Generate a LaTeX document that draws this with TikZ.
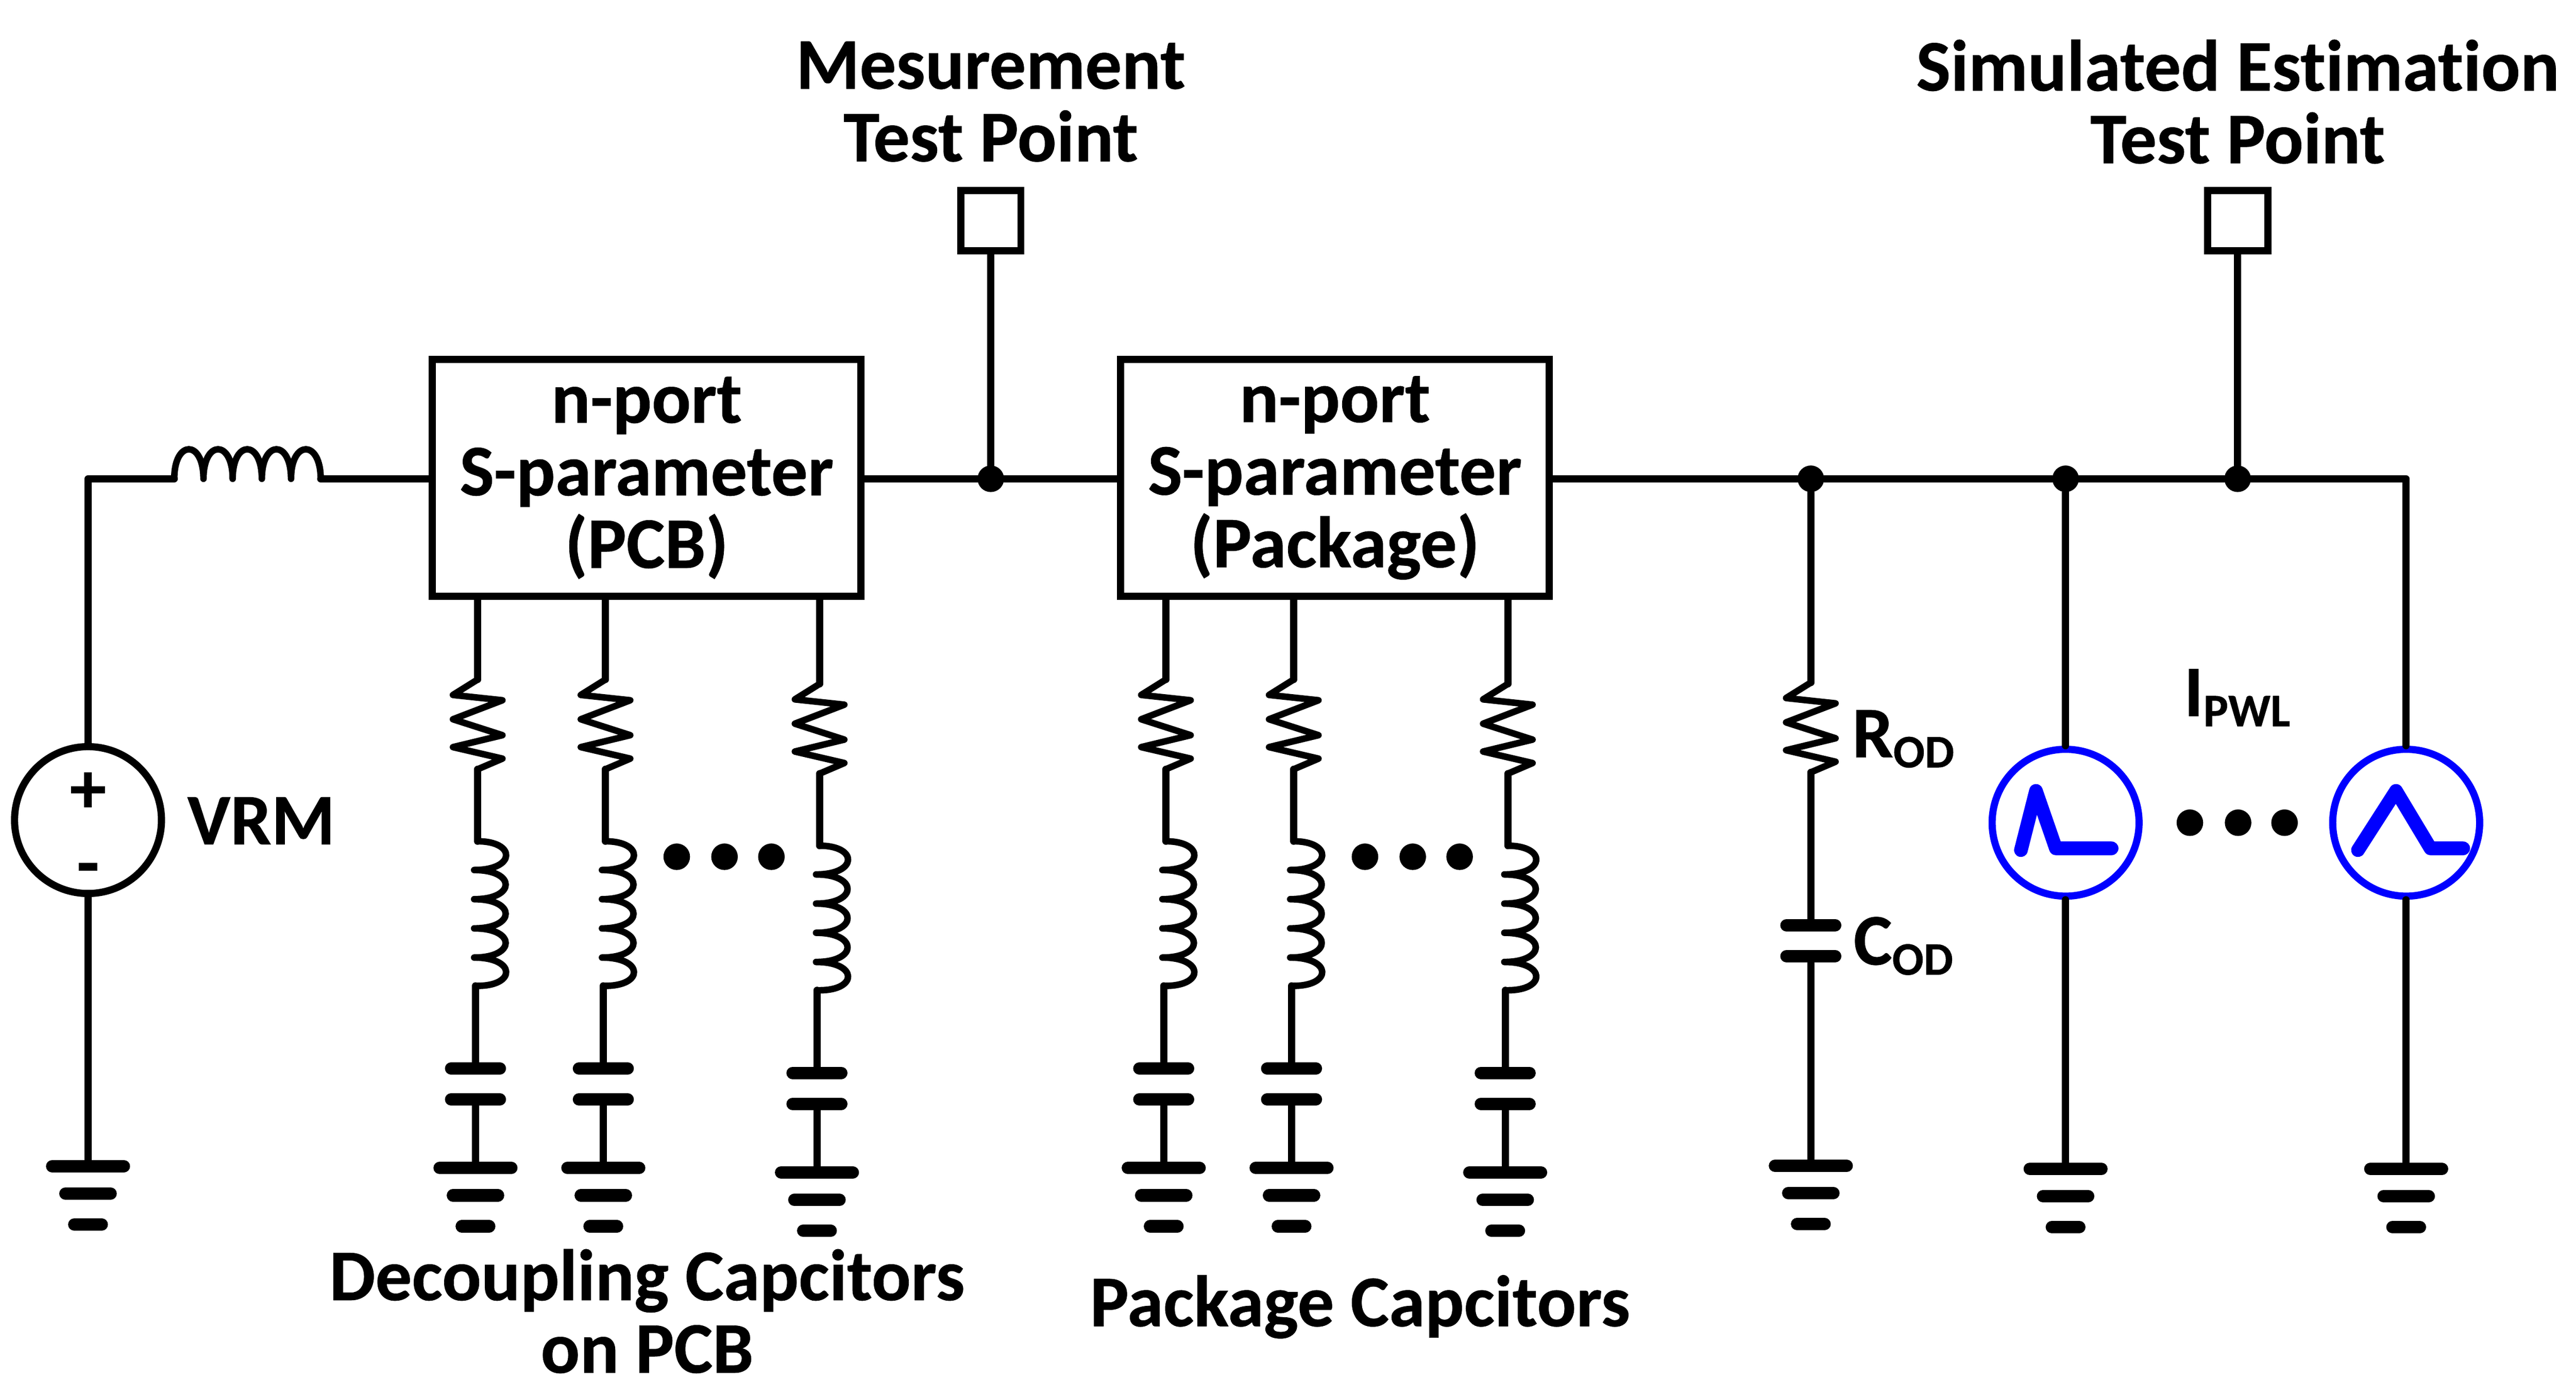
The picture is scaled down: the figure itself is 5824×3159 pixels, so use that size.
\documentclass[tikz,border=0pt]{standalone}
\usepackage{fontspec}
\setmainfont{Carlito}[Ligatures=NoCommon,BoldFeatures={FakeBold=0.5}]
\definecolor{srcblue}{RGB}{0,0,255}
\newcommand{\bigfont}{\fontsize{46.8}{46.7}\selectfont\bfseries}
\newcommand{\subfont}{\fontsize{30}{30}\selectfont\bfseries}
\tikzset{
  wire/.style={line width=4.6pt,line join=round,line cap=round,black},
  coil/.style={line width=4.2pt,line join=round,line cap=round,black},
  plate/.style={line width=8pt,line cap=round,black},
  pulse/.style={line width=8.8pt,line cap=round,line join=round,srcblue},
  lbl/.style={font=\bigfont,inner sep=0pt,align=center,text=black},
  blockbox/.style={draw=black,line width=4.6pt,font=\bigfont,align=center,inner sep=0pt,minimum width=9.68cm,minimum height=5.36cm},
  probe/.style={draw=black,line width=4.6pt,minimum size=1.36cm,inner sep=0pt},
  junct/.style={circle,fill=black,minimum size=0.6cm,inner sep=0pt},
  ddot/.style={circle,fill=black,minimum size=0.6cm,inner sep=0pt},
  vsrc/.style={circle,draw=black,line width=4.6pt,minimum size=3.32cm,inner sep=0pt},
  isrc/.style={circle,draw=srcblue,line width=4.6pt,minimum size=3.32cm,inner sep=0pt},
}
\newcommand{\gndsym}[3]{% name, x, y of the first plate
  \coordinate (#1) at (#2,#3);
  \draw[plate] (#2-81,#3) -- (#2+81,#3);
  \draw[plate] (#2-51,#3+62) -- (#2+51,#3+62);
  \draw[plate] (#2-31,#3+132) -- (#2+31,#3+132);
}
\newcommand{\rzig}[3]{% name, x, y of the top end
  \coordinate (#1a) at (#2,#3);
  \coordinate (#1b) at (#2,#3+203);
  \draw[coil] (#2,#3) -- (#2-56,#3+35) -- (#2+56,#3+47) -- (#2-56,#3+90)
     -- (#2+56,#3+126) -- (#2-56,#3+153) -- (#2+56,#3+179) -- (#2,#3+203);
}
\newcommand{\lcoil}[3]{% name, x, y of the top end
  \coordinate (#1a) at (#2,#3);
  \coordinate (#1b) at (#2,#3+327);
  \draw[coil] (#2,#3) .. controls (#2+87,#3) and (#2+87,#3+65) .. (#2-8,#3+65)
     .. controls (#2+87,#3+65) and (#2+87,#3+131) .. (#2-8,#3+131)
     .. controls (#2+87,#3+131) and (#2+87,#3+197) .. (#2-8,#3+197)
     .. controls (#2+87,#3+197) and (#2+87,#3+263) .. (#2-8,#3+263)
     .. controls (#2+87,#3+263) and (#2+87,#3+327) .. (#2,#3+327);
}
\newcommand{\capsym}[3]{% name, x, y of the first plate
  \coordinate (#1a) at (#2,#3);
  \coordinate (#1b) at (#2,#3+70);
  \draw[plate] (#2-55,#3) -- (#2+55,#3);
  \draw[plate] (#2-55,#3+70) -- (#2+55,#3+70);
}
\newcommand{\decap}[5]{% name, upper x, lower x, y shift, box
  \rzig{#1r}{#2}{1537+#4}
  \lcoil{#1l}{#2}{1903+#4}
  \capsym{#1c}{#3}{2417+#4}
  \gndsym{#1g}{#3}{2642+#4}
  \draw[wire] (#5.south -| #1ra) -- (#1ra);
  \draw[wire] (#1rb) -- (#1la);
  \draw[wire] (#3,2230+#4) -- (#1ca);
  \draw[wire] (#1cb) -- (#1g);
}
\begin{document}
\begin{tikzpicture}[x=0.01cm,y=-0.01cm]
\useasboundingbox (0,0) rectangle (5824,3159);

% boxes
\node[blockbox] (box1) at (1462,1081) {n-port\\S-parameter\\(PCB)};
\node[blockbox] (box2) at (3018,1081) {n-port\\S-parameter\\(Package)};

% probes
\node[probe] (tp1) at (2240,499) {};
\node[probe] (tp2) at (5059,499) {};
\node[lbl] (tp1t) at (2240,230) {Mesurement\\Test Point};
\node[lbl] (tp2t) at (5059,230) {Simulated Estimation\\Test Point};

% junctions
\node[junct] (j1) at (2240,1083) {};
\node[junct] (j2) at (4094,1083) {};
\node[junct] (j3) at (4670,1083) {};
\node[junct] (j4) at (5059,1083) {};
\coordinate (cnr) at (5440,1083);

% sources
\node[vsrc] (vrm) at (199,1855) {};
\node[isrc] (s1) at (4670,1861) {};
\node[isrc] (s2) at (5440,1861) {};
\node[font=\bigfont,inner sep=0pt] (plus) at (199,1793) {+};
\node[font=\bigfont,inner sep=0pt] (minus) at (199,1980) {-};
\node[lbl,anchor=base west] (vrmt) at (423,1910) {VRM};

% series inductor
\coordinate (ls0) at (394,1083);
\coordinate (ls1) at (725,1083);
\draw[coil] (ls0) .. controls (394,994) and (460,994) .. (460,1083)
  .. controls (460,994) and (526,994) .. (526,1083)
  .. controls (526,994) and (592,994) .. (592,1083)
  .. controls (592,994) and (658,994) .. (658,1083)
  .. controls (658,994) and (725,994) .. (ls1);

% main wires
\gndsym{gv}{199}{2638}
\draw[wire] (vrm.north) -- (199,1083) -- (ls0);
\draw[wire] (ls1) -- (ls1 -| box1.west);
\draw[wire] (vrm.south) -- (gv);
\draw[wire] (box1.east |- j1) -- (j1);
\draw[wire] (j1) -- (j1 -| box2.west);
\draw[wire] (box2.east |- j2) -- (j2);
\draw[wire] (j2) -- (j3);
\draw[wire] (j3) -- (j4);
\draw[wire] (j4) -- (cnr) -- (s2.north);
\draw[wire] (j1) -- (tp1.south);
\draw[wire] (j4) -- (tp2.south);

% decoupling branches
\decap{a}{1080}{1075}{0}{box1}
\decap{b}{1369}{1364}{0}{box1}
\decap{c}{1853}{1847}{10}{box1}
\decap{d}{2636}{2631}{0}{box2}
\decap{e}{2925}{2920}{0}{box2}
\decap{f}{3409}{3403}{10}{box2}

\node[ddot] (da1) at (1530,1938) {};
\node[ddot] (da2) at (1638,1938) {};
\node[ddot] (da3) at (1744,1938) {};
\node[ddot] (db1) at (3086,1938) {};
\node[ddot] (db2) at (3194,1938) {};
\node[ddot] (db3) at (3300,1938) {};

\node[lbl] (dect) at (1463,2966) {Decoupling Capcitors\\on PCB};
\node[lbl] (pkgt) at (3075,2956) {Package Capcitors};

% ROD / COD
\rzig{or}{4094}{1544}
\capsym{oc}{4094}{2093}
\gndsym{og}{4094}{2637}
\draw[wire] (j2) -- (ora);
\draw[wire] (orb) -- (oca);
\draw[wire] (ocb) -- (og);
\node[lbl,anchor=base west] (rod) at (4187,1713) {R{\subfont\raisebox{-6.5pt}{OD}}};
\node[lbl,anchor=base west] (cod) at (4190,2182) {C{\subfont\raisebox{-6.5pt}{OD}}};

% current sources
\gndsym{g1}{4670}{2644}
\gndsym{g2}{5440}{2644}
\draw[wire] (j3) -- (s1.north);
\draw[wire] (s1.south) -- (g1);
\draw[wire] (s2.south) -- (g2);
\draw[pulse] (4569,1923) -- (4603,1789) -- (4648,1919) -- (4774,1919);
\draw[pulse] (5331,1923) -- (5417,1789) -- (5495,1919) -- (5569,1919);
\node[ddot] (dc1) at (4951,1861) {};
\node[ddot] (dc2) at (5060,1861) {};
\node[ddot] (dc3) at (5165,1861) {};
\node[lbl,anchor=base west] (ipwl) at (4937,1620) {I{\subfont\raisebox{-6.5pt}{PWL}}};
\end{tikzpicture}
\end{document}
